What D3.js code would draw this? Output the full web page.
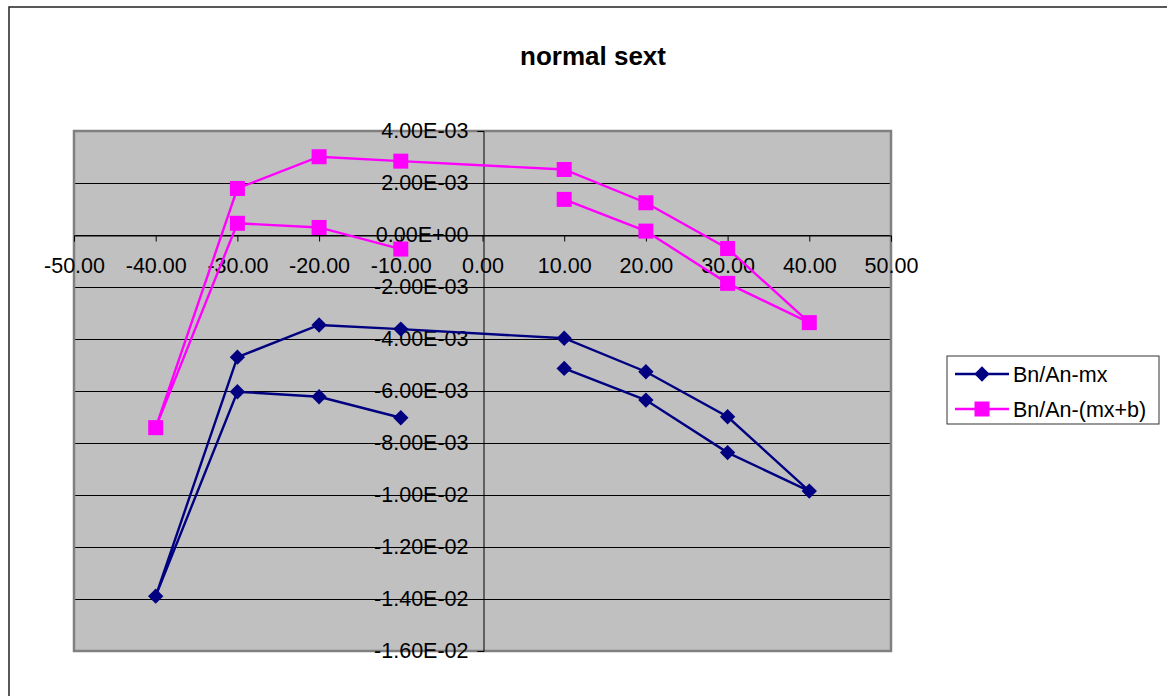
<!DOCTYPE html>
<html>
<head>
<meta charset="utf-8">
<script src="https://cdn.jsdelivr.net/npm/d3@7"></script>
<style>
  html, body { margin: 0; padding: 0; background: #fff; }
  svg { display: block; font-family: "Liberation Sans", Arial, sans-serif; }
</style>
</head>
<body>
<svg id="chart" width="1167" height="696"></svg>
<script>
// ---- data ----
const title = "normal sext";
const xValues = [-10, -20, -30, -40, -30, -20, -10, 10, 20, 30, 40, 30, 20, 10];
const mxValues = [-7.03e-3, -6.22e-3, -6.03e-3, -1.389e-2, -4.70e-3, -3.46e-3, -3.62e-3,
                  -3.97e-3, -5.26e-3, -6.99e-3, -9.85e-3, -8.37e-3, -6.35e-3, -5.13e-3];
const mxbValues = [-0.54e-3, 0.29e-3, 0.45e-3, -7.41e-3, 1.79e-3, 3.01e-3, 2.84e-3,
                   2.52e-3, 1.24e-3, -0.52e-3, -3.37e-3, -1.86e-3, 0.15e-3, 1.37e-3];
const seriesNames = ["Bn/An-mx", "Bn/An-(mx+b)"];
const seriesColors = ["#000080", "#FF00FF"];
const xTicks = [-50, -40, -30, -20, -10, 0, 10, 20, 30, 40, 50];
const xTickLabels = ["-50.00", "-40.00", "-30.00", "-20.00", "-10.00", "0.00",
                     "10.00", "20.00", "30.00", "40.00", "50.00"];
const yTicks = [4e-3, 2e-3, 0, -2e-3, -4e-3, -6e-3, -8e-3, -1e-2, -1.2e-2, -1.4e-2, -1.6e-2];
const yTickLabels = ["4.00E-03", "2.00E-03", "0.00E+00", "-2.00E-03", "-4.00E-03", "-6.00E-03",
                     "-8.00E-03", "-1.00E-02", "-1.20E-02", "-1.40E-02", "-1.60E-02"];

// ---- layout ----
const svg = d3.select("#chart");
const plot = { left: 74, top: 131, right: 891, bottom: 651 };
const x = d3.scaleLinear().domain([-50, 50]).range([plot.left, plot.right]);
const y = d3.scaleLinear().domain([-0.016, 0.004]).range([plot.bottom, plot.top]);

// outer frame
svg.append("rect").attr("x", 9).attr("y", 7).attr("width", 1170).attr("height", 700)
  .attr("fill", "#fff").attr("stroke", "#222").attr("stroke-width", 1.5);

// title
svg.append("text").attr("x", 593).attr("y", 65).attr("text-anchor", "middle")
  .attr("font-size", 26).attr("font-weight", "bold").text(title);

// plot background
svg.append("rect").attr("x", plot.left).attr("y", plot.top)
  .attr("width", plot.right - plot.left).attr("height", plot.bottom - plot.top)
  .attr("fill", "#C0C0C0");

// gridlines
svg.append("g").selectAll("line").data(yTicks).join("line")
  .attr("x1", plot.left).attr("x2", plot.right)
  .attr("y1", d => Math.round(y(d)) + 0.5).attr("y2", d => Math.round(y(d)) + 0.5)
  .attr("stroke", "#000").attr("stroke-width", 1);

// plot border
svg.append("rect").attr("x", plot.left).attr("y", plot.top)
  .attr("width", plot.right - plot.left).attr("height", plot.bottom - plot.top)
  .attr("fill", "none").attr("stroke", "#808080").attr("stroke-width", 2.5);

// x axis at y=0
const xAxis = d3.axisBottom(x).tickValues(xTicks).tickSize(6).tickFormat((d, i) => xTickLabels[i]);
const gx = svg.append("g").attr("transform", `translate(0,${Math.round(y(0)) + 0.5})`).call(xAxis);
gx.select(".domain").attr("stroke", "#000");
gx.selectAll(".tick line").attr("stroke", "#000");
gx.selectAll(".tick text").attr("font-size", 21.5).attr("fill", "#000")
  .attr("font-family", "Liberation Sans, Arial, sans-serif").attr("y", 0).attr("dy", "1.75em");

// y axis at x=0
const yAxis = d3.axisLeft(y).tickValues(yTicks).tickSize(6)
  .tickFormat((d, i) => yTickLabels[i]);
const gy = svg.append("g").attr("transform", `translate(${Math.round(x(0)) + 0.5},0)`).call(yAxis);
gy.select(".domain").attr("stroke", "#000");
gy.selectAll(".tick line").attr("stroke", "#000");
gy.selectAll(".tick text").attr("font-size", 21.5).attr("fill", "#000")
  .attr("font-family", "Liberation Sans, Arial, sans-serif").attr("x", -15);

// series
const seriesData = [mxValues, mxbValues];
const line = d3.line().x(d => x(d[0])).y(d => y(d[1]));
seriesData.forEach((vals, si) => {
  const pts = xValues.map((xv, i) => [xv, vals[i]]);
  svg.append("path").datum(pts).attr("d", line)
    .attr("fill", "none").attr("stroke", seriesColors[si]).attr("stroke-width", 2.4);
});
const diamond = d3.symbol().type(d3.symbolDiamond2).size(150);
svg.append("g").selectAll("path").data(xValues.map((xv, i) => [xv, mxValues[i]])).join("path")
  .attr("d", diamond).attr("transform", d => `translate(${x(d[0])},${y(d[1])})`)
  .attr("fill", seriesColors[0]);
svg.append("g").selectAll("rect").data(xValues.map((xv, i) => [xv, mxbValues[i]])).join("rect")
  .attr("x", d => x(d[0]) - 7.5).attr("y", d => y(d[1]) - 7.5)
  .attr("width", 15).attr("height", 15).attr("fill", seriesColors[1]);

// legend
const lg = svg.append("g");
lg.append("rect").attr("x", 947).attr("y", 356).attr("width", 212).attr("height", 68)
  .attr("fill", "#fff").attr("stroke", "#333").attr("stroke-width", 1);
seriesNames.forEach((name, i) => {
  const cy = 374 + i * 35;
  lg.append("line").attr("x1", 955).attr("x2", 1009).attr("y1", cy).attr("y2", cy)
    .attr("stroke", seriesColors[i]).attr("stroke-width", 2.4);
  if (i === 0) {
    lg.append("path").attr("d", diamond).attr("transform", `translate(982,${cy})`).attr("fill", seriesColors[i]);
  } else {
    lg.append("rect").attr("x", 982 - 7.5).attr("y", cy - 7.5).attr("width", 15).attr("height", 15)
      .attr("fill", seriesColors[i]);
  }
  lg.append("text").attr("x", 1013).attr("y", cy).attr("dy", "0.36em")
    .attr("font-size", 21.5).attr("fill", "#000").text(name);
});
</script>
</body>
</html>
